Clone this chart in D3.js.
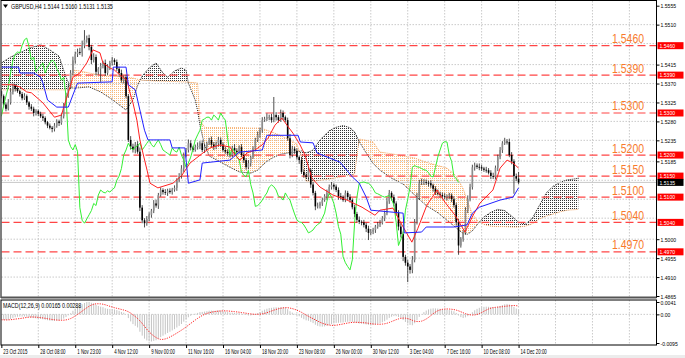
<!DOCTYPE html>
<html lang="en">
<head>
<meta charset="UTF-8">
<title>GBPUSD,H4</title>
<script src="https://d3js.org/d3.v7.min.js"></script>
<style>
  body { margin: 0; background: #fff; }
  svg { display: block; }
  text { font-family: "Liberation Sans", Arial, sans-serif; }
</style>
</head>
<body>
<script>
// ---- data ----
const headerText = 'GBPUSD,H4  1.5144 1.5160 1.5131 1.5135';
const macdText = 'MACD(12,26,9) 0.00165 0.00288';

const timeLabels = ['23 Oct 2015', '28 Oct 08:00', '1 Nov 23:00', '4 Nov 12:00', '9 Nov 00:00',
  '11 Nov 16:00', '16 Nov 04:00', '18 Nov 20:00', '23 Nov 08:00', '26 Nov 00:00',
  '30 Nov 12:00', '3 Dec 04:00', '7 Dec 16:00', '10 Dec 08:00', '14 Dec 20:00'];
const timeLabelBars = [0, 16, 32, 48, 64, 80, 96, 112, 128, 144, 160, 176, 192, 208, 224];
const gridBars = [16, 32, 48, 64, 80, 96, 112, 128, 144, 160, 176, 192, 208, 224, 240, 256, 272];

const priceTicks = [1.5555, 1.5510, 1.5415, 1.5370, 1.5325, 1.5280, 1.5235, 1.5185,
  1.5000, 1.4955, 1.4910, 1.4865];
const gridPrices = [1.5510, 1.5465, 1.5415, 1.5370, 1.5325, 1.5280, 1.5235, 1.5185,
  1.5140, 1.5095, 1.5050, 1.5000, 1.4955, 1.4910];
const macdTicks = [0.0041, 0, -0.0095];
const macdTickLabels = ['0.0041', '0.00', '-0.0095'];

const levels = [1.5460, 1.5390, 1.5300, 1.5200, 1.5150, 1.5100, 1.5040, 1.4970];
const bidPrice = 1.5135;

const firstOpen = 1.5352;
const closes = [
  1.5340,1.5320,1.5310,1.5325,1.5350,1.5365,1.5358,1.5352,1.5345,1.5335,1.5340,1.5325,1.5315,1.5310,1.5300,
  1.5305,1.5298,1.5292,1.5288,1.5278,1.5270,1.5265,1.5262,1.5270,1.5280,1.5276,1.5292,1.5318,1.5340,1.5362,
  1.5395,1.5425,1.5440,1.5445,1.5443,1.5460,1.5474,1.5478,1.5457,1.5426,1.5433,1.5398,1.5405,1.5412,1.5419,
  1.5395,1.5410,1.5419,1.5426,1.5421,1.5405,1.5395,1.5378,1.5385,1.5340,1.5236,1.5220,1.5212,1.5225,1.5208,
  1.5075,1.5045,1.5038,1.5048,1.5058,1.5068,1.5085,1.5080,1.5105,1.5117,1.5112,1.5110,1.5115,1.5112,1.5118,
  1.5122,1.5140,1.5150,1.5168,1.5200,1.5212,1.5228,1.5218,1.5212,1.5219,1.5222,1.5228,1.5212,1.5220,1.5228,
  1.5236,1.5225,1.5219,1.5228,1.5236,1.5225,1.5212,1.5208,1.5204,1.5200,1.5217,1.5210,1.5207,1.5219,1.5200,
  1.5188,1.5171,1.5181,1.5195,1.5215,1.5236,1.5248,1.5259,1.5283,1.5286,1.5290,1.5290,1.5283,1.5295,1.5290,
  1.5283,1.5300,1.5290,1.5283,1.5240,1.5200,1.5215,1.5210,1.5195,1.5188,1.5160,1.5152,1.5148,1.5164,1.5130,
  1.5110,1.5078,1.5080,1.5085,1.5093,1.5102,1.5110,1.5124,1.5129,1.5125,1.5117,1.5102,1.5100,1.5093,1.5110,
  1.5100,1.5093,1.5076,1.5060,1.5046,1.5041,1.5040,1.5034,1.5025,1.5015,1.5018,1.5022,1.5030,1.5035,1.5039,
  1.5050,1.5062,1.5090,1.5110,1.5100,1.5085,1.5062,1.5030,1.5012,1.4958,1.4944,1.4935,1.4927,1.4951,1.5040,
  1.5100,1.5133,1.5135,1.5136,1.5134,1.5133,1.5128,1.5120,1.5110,1.5108,1.5105,1.5102,1.5100,1.5102,1.5104,
  1.5095,1.5081,1.5040,1.4985,1.5000,1.5015,1.5069,1.5095,1.5124,1.5171,1.5175,1.5172,1.5171,1.5168,1.5165,
  1.5164,1.5158,1.5150,1.5148,1.5170,1.5195,1.5212,1.5228,1.5232,1.5231,1.5200,1.5185,1.5150,1.5144,1.5135
];
// wick lengths in pips above/below the candle body
const upperWick = [
  6,4,5,8,7,5,4,6,3,5,7,4,3,6,5,
  4,3,5,6,4,3,5,4,6,5,4,7,6,8,5,
  7,9,6,8,10,12,23,6,8,5,9,6,4,7,5,
  8,6,5,7,4,6,5,8,4,6,5,9,7,6,8,
  10,6,5,7,6,4,8,9,5,6,4,7,5,6,4,
  6,5,7,8,6,5,9,7,4,6,8,5,7,6,4,
  5,8,6,4,7,6,5,8,6,4,5,9,6,4,7,
  6,5,7,4,6,5,8,6,7,5,9,6,8,43,7,
  5,8,6,4,6,10,7,5,6,4,8,6,5,7,4,
  6,5,7,4,6,5,8,6,7,4,5,6,8,4,6,
  5,7,4,6,5,8,4,6,5,7,6,5,4,6,7,
  5,6,8,7,4,6,5,7,8,6,5,7,6,9,8,
  10,8,9,7,6,5,7,4,6,8,5,6,7,4,6,
  5,7,6,8,5,6,7,9,8,6,7,5,8,6,4,
  7,5,6,8,5,6,7,5,9,6,8,7,5,6,16
];
const lowerWick = [
  5,7,6,4,5,6,7,4,6,5,4,6,7,5,8,
  6,5,4,7,5,6,4,8,6,5,7,4,5,6,4,
  5,6,8,7,5,9,6,7,8,10,6,9,7,31,6,
  7,5,8,6,7,5,9,6,8,5,5,7,6,8,5,
  8,7,10,6,5,7,6,5,8,4,6,5,7,4,6,
  5,7,4,6,8,5,6,7,5,4,6,8,5,7,6,
  4,6,7,5,8,6,4,5,7,6,5,8,6,4,5,
  7,6,5,8,4,6,5,7,6,4,5,7,6,5,8,
  6,4,7,5,6,8,5,7,6,9,5,6,4,7,8,
  6,9,5,7,6,4,8,5,6,7,5,8,6,4,5,
  7,6,5,8,6,5,7,6,8,17,5,6,7,5,6,
  4,7,5,6,8,7,6,9,8,10,7,37,9,8,6,
  5,7,4,6,5,8,6,7,5,4,6,7,5,8,6,
  7,6,8,22,5,6,4,7,5,6,8,5,7,6,5,
  6,4,7,5,6,8,5,7,4,6,5,7,42,6,4
];

// Ichimoku lines, [bar, price]
const tenkanPts = [[0,1.5367],[5,1.5367],[8,1.5362],[11,1.5350],[13,1.5348],[18,1.5324],[23,1.5290],[26,1.5295],
  [28.4,1.5338],[31,1.5385],[34,1.5395],[37,1.5419],[39.7,1.5450],[42.7,1.5443],[44,1.5419],[47,1.5407],[49,1.5402],
  [51.4,1.5390],[54.4,1.5378],[55.7,1.5348],[57,1.5324],[58.7,1.5283],[60,1.5236],[61.3,1.5205],[63.1,1.5164],
  [64.4,1.5133],[67.8,1.5122],[74.3,1.5133],[78.2,1.5152],[81.7,1.5181],[87.3,1.5205],[90.4,1.5217],[94.7,1.5224],
  [99,1.5219],[101.2,1.5200],[103.4,1.5188],[106.4,1.5205],[109.9,1.5212],[112.9,1.5224],[115.5,1.5240],[118.5,1.5271],
  [121.5,1.5288],[123.7,1.5271],[126.3,1.5252],[129.4,1.5224],[131.5,1.5200],[134.5,1.5145],[138,1.5124],[143.6,1.5105],
  [149.7,1.5093],[156.2,1.5076],[161.8,1.5057],[164,1.5069],[169.6,1.5074],[173.5,1.5034],[177.8,1.4993],[180.4,1.5026],
  [184.3,1.5081],[188.7,1.5117],[192.1,1.5088],[196.5,1.5057],[200.8,1.5017],[204.3,1.5057],[207.3,1.5086],[212.9,1.5117],
  [216,1.5169],[219,1.5188],[221.6,1.5181],[224,1.5169]];
const kijunPts = [[0,1.5409],[7.5,1.5409],[8,1.5395],[14,1.5395],[17,1.5385],[18,1.5371],[20,1.5331],[24,1.5314],
  [29,1.5314],[31,1.5343],[33,1.5371],[48,1.5374],[48.5,1.5409],[54,1.5409],[55,1.5367],[58,1.5355],[60,1.5307],
  [62,1.5259],[63.5,1.5236],[73,1.5236],[74,1.5217],[79.5,1.5217],[81,1.5133],[86,1.5141],[87,1.5181],[99,1.5188],
  [103,1.5207],[113,1.5212],[115,1.5247],[128.5,1.5247],[129.5,1.5231],[135,1.5229],[136.7,1.5205],[146.7,1.5183],
  [152,1.5148],[155,1.5133],[158,1.5100],[160,1.5069],[174,1.5062],[174.5,1.5015],[182,1.5017],[184,1.5029],
  [196,1.5029],[201.7,1.5034],[204,1.5062],[207,1.5076],[216,1.5093],[221.6,1.5100],[224,1.5122]];

const cloudBars = [0,4,8,12,17,21,25,28,30,31,34,38,43,48,54,57,59,61,64,67,70,72,75,78,80,81,84,85,86,88,90,95,99,
  103,108,111,113,115,118,121,125,128,130,132,135,138,142,145,148,151,153,155,158,161,164,169,174,179,184,189,193,197,
  200,202,204,206,209,212,215,218,221,224,227,230,233,236,239,242,245,248,250];
const spanA = [1.5419,1.5433,1.5443,1.5454,1.5462,1.5450,1.5435,1.5385,1.5362,1.5359,1.5360,1.5362,1.5350,1.5332,
  1.5307,1.5331,1.5365,1.5388,1.5407,1.5419,1.5395,1.5385,1.5400,1.5407,1.5402,1.5371,1.5330,1.5305,1.5271,1.5224,
  1.5198,1.5183,1.5171,1.5160,1.5157,1.5164,1.5175,1.5185,1.5195,1.5202,1.5206,1.5207,1.5210,1.5205,1.5212,1.5236,
  1.5258,1.5266,1.5270,1.5265,1.5255,1.5232,1.5205,1.5180,1.5164,1.5145,1.5131,1.5105,1.5080,1.5063,1.5045,1.5027,
  1.5013,1.5012,1.5020,1.5034,1.5053,1.5064,1.5071,1.5068,1.5055,1.5040,1.5036,1.5050,1.5080,1.5110,1.5126,1.5135,
  1.5141,1.5143,1.5145];
const spanB = [1.5355,1.5355,1.5355,1.5355,1.5355,1.5355,1.5355,1.5355,1.5355,1.5402,1.5400,1.5395,1.5390,1.5388,
  1.5385,1.5383,1.5380,1.5378,1.5377,1.5376,1.5376,1.5375,1.5375,1.5374,1.5374,1.5373,1.5372,1.5371,1.5283,1.5266,
  1.5265,1.5265,1.5265,1.5265,1.5264,1.5264,1.5263,1.5259,1.5253,1.5246,1.5236,1.5226,1.5195,1.5138,1.5138,1.5140,
  1.5143,1.5146,1.5149,1.5152,1.5155,1.5238,1.5235,1.5231,1.5207,1.5203,1.5198,1.5193,1.5183,1.5175,1.5169,1.5150,
  1.5120,1.5088,1.5060,1.5045,1.5035,1.5031,1.5030,1.5030,1.5029,1.5029,1.5031,1.5037,1.5048,1.5055,1.5060,1.5065,
  1.5069,1.5070,1.5071];

const chikouShift = 26;
const macdFirst = -0.0018;   // MACD value at the first visible bar

// ---- layout ----
const W = 685, H = 358;
const plotL = 1.5, plotR = 656.5;
const mainT = 1, mainB = 297.5;
const macdT = 300, macdB = 345;

const svg = d3.select('body').append('svg').attr('width', W).attr('height', H);
const defs = svg.append('defs');

const x = d3.scaleLinear().domain([0, 272]).range([1.35, 1.35 + 272 * 2.309]);
const y = d3.scaleLinear().domain([1.4865, 1.5555]).range([296, 5.7]);
const yM = d3.scaleLinear().domain([-0.0095, 0.0041]).range([343, 302]);

defs.append('clipPath').attr('id', 'clipMain').append('rect')
  .attr('x', plotL).attr('y', mainT).attr('width', plotR - plotL).attr('height', mainB - mainT - 1);
defs.append('clipPath').attr('id', 'clipMacd').append('rect')
  .attr('x', plotL).attr('y', macdT).attr('width', plotR - plotL).attr('height', macdB - macdT);

function dots(id, color) {
  const p = defs.append('pattern').attr('id', id).attr('patternUnits', 'userSpaceOnUse')
    .attr('width', 2).attr('height', 2);
  p.append('rect').attr('width', 1).attr('height', 1).attr('fill', color);
}
dots('dotBlack', '#333');
dots('dotOrange', '#f9b877');

function txt(g, tx, ty, s, size, sx, fill, anchor) {
  return g.append('text').attr('transform', `translate(${tx},${ty}) scale(${sx},1)`)
    .attr('font-size', size).attr('fill', fill).attr('text-anchor', anchor || 'start').text(s);
}

svg.append('rect').attr('width', W).attr('height', H).attr('fill', '#fff');
svg.append('rect').attr('x', 0).attr('y', 355).attr('width', W).attr('height', 3).attr('fill', '#ececec');

// grid
const grid = svg.append('g').attr('stroke', '#bdbdbd').attr('stroke-width', 0.8).attr('stroke-dasharray', '1.5,1.5');
grid.selectAll('.gx').data(gridBars).join('line').attr('class', 'gx')
  .attr('x1', d => x(d)).attr('x2', d => x(d)).attr('y1', mainT).attr('y2', mainB);
grid.selectAll('.gxm').data(gridBars).join('line').attr('class', 'gxm')
  .attr('x1', d => x(d)).attr('x2', d => x(d)).attr('y1', macdT).attr('y2', macdB);
grid.selectAll('.gy').data(gridPrices).join('line').attr('class', 'gy')
  .attr('x1', plotL).attr('x2', plotR).attr('y1', d => y(d)).attr('y2', d => y(d));
grid.append('line').attr('x1', plotL).attr('x2', plotR).attr('y1', yM(0)).attr('y2', yM(0));

const main = svg.append('g').attr('clip-path', 'url(#clipMain)');

// cloud
const cloud = cloudBars.map((b, i) => ({ b, a: spanA[i], s: spanB[i] }));
defs.append('clipPath').attr('id', 'belowA').append('path')
  .attr('d', d3.area().x(d => x(d.b)).y0(mainB).y1(d => y(d.a))(cloud));
defs.append('clipPath').attr('id', 'belowB').append('path')
  .attr('d', d3.area().x(d => x(d.b)).y0(mainB).y1(d => y(d.s))(cloud));
main.append('path').attr('clip-path', 'url(#belowA)').attr('fill', 'url(#dotBlack)')
  .attr('d', d3.area().x(d => x(d.b)).y0(d => y(d.s)).y1(mainT)(cloud));
main.append('path').attr('clip-path', 'url(#belowB)').attr('fill', 'url(#dotOrange)')
  .attr('d', d3.area().x(d => x(d.b)).y0(d => y(d.a)).y1(mainT)(cloud));
main.append('path').attr('fill', 'none').attr('stroke', '#f4a460').attr('stroke-width', 1)
  .attr('stroke-dasharray', '1,1').attr('d', d3.line().x(d => x(d.b)).y(d => y(d.s))(cloud));
main.append('path').attr('fill', 'none').attr('stroke', '#222').attr('stroke-width', 1)
  .attr('stroke-dasharray', '1,1').attr('d', d3.line().x(d => x(d.b)).y(d => y(d.a))(cloud));

// level lines
main.selectAll('.lvl').data(levels).join('line').attr('class', 'lvl')
  .attr('x1', plotL).attr('x2', plotR).attr('y1', d => y(d)).attr('y2', d => y(d))
  .attr('stroke', '#ff4545').attr('stroke-width', 1.2).attr('stroke-dasharray', '8,4');
main.append('line').attr('x1', plotL).attr('x2', plotR).attr('y1', y(bidPrice)).attr('y2', y(bidPrice))
  .attr('stroke', '#c8c8c8').attr('stroke-width', 1);

// candles
const bars = closes.map((c, i) => {
  const o = i ? closes[i - 1] : firstOpen;
  return { i, o, c, hi: Math.max(o, c) + upperWick[i] / 10000, lo: Math.min(o, c) - lowerWick[i] / 10000 };
});
const cg = main.append('g');
cg.selectAll('.wick').data(bars).join('line').attr('class', 'wick')
  .attr('x1', d => x(d.i)).attr('x2', d => x(d.i)).attr('y1', d => y(d.hi)).attr('y2', d => y(d.lo))
  .attr('stroke', '#222').attr('stroke-width', 0.8);
cg.selectAll('.body').data(bars).join('rect').attr('class', 'body')
  .attr('x', d => x(d.i) - 0.8).attr('width', 1.6)
  .attr('y', d => y(Math.max(d.o, d.c)))
  .attr('height', d => Math.max(0.8, Math.abs(y(d.o) - y(d.c))))
  .attr('fill', d => d.c >= d.o ? '#8c8c8c' : '#000');

// ichimoku lines
const ptLine = d3.line().x(d => x(d[0])).y(d => y(d[1]));
const chikou = closes.slice(chikouShift).map((c, i) => [i, c]);
main.append('path').attr('fill', 'none').attr('stroke', '#33ee33').attr('stroke-width', 1).attr('d', ptLine(chikou));
main.append('path').attr('fill', 'none').attr('stroke', '#ff2020').attr('stroke-width', 1).attr('d', ptLine(tenkanPts));
main.append('path').attr('fill', 'none').attr('stroke', '#2020ff').attr('stroke-width', 1).attr('d', ptLine(kijunPts));

// level labels
levels.forEach(p => txt(svg, 612, y(p) - 2.5, p.toFixed(4), 12.5, 0.84, '#f87a2c'));

// MACD
const macdMain = [];
let e12 = closes[0], e26 = closes[0] - macdFirst;
closes.forEach((c, i) => {
  if (i > 0) { e12 += (c - e12) * 2 / 13; e26 += (c - e26) * 2 / 27; }
  macdMain.push(e12 - e26);
});
const macdSignal = macdMain.map((m, i) => d3.mean(macdMain.slice(Math.max(0, i - 8), i + 1)));
const mg = svg.append('g').attr('clip-path', 'url(#clipMacd)');
mg.selectAll('rect').data(macdMain).join('rect')
  .attr('x', (d, i) => x(i) - 0.5).attr('width', 1)
  .attr('y', d => Math.min(yM(0), yM(d))).attr('height', d => Math.abs(yM(d) - yM(0)))
  .attr('fill', '#c4c4c4');
mg.append('path').attr('fill', 'none').attr('stroke', '#ff2020').attr('stroke-width', 1)
  .attr('stroke-dasharray', '1.2,1.2')
  .attr('d', d3.line().x((d, i) => x(i)).y(d => yM(d))(macdSignal));

// frames
svg.append('rect').attr('x', 1).attr('y', 0.5).attr('width', plotR - 1).attr('height', mainB - 0.5)
  .attr('fill', 'none').attr('stroke', '#000').attr('stroke-width', 1);
svg.append('line').attr('x1', 1).attr('x2', plotR).attr('y1', mainB).attr('y2', mainB)
  .attr('stroke', '#555').attr('stroke-width', 2);
svg.append('rect').attr('x', 1).attr('y', macdT).attr('width', plotR - 1).attr('height', macdB - macdT)
  .attr('fill', 'none').attr('stroke', '#000').attr('stroke-width', 1);

// price axis
const pa = svg.append('g').attr('transform', `translate(${plotR},0)`)
  .call(d3.axisRight(y).tickValues(priceTicks).tickSize(3).tickFormat(d3.format('.4f')));
pa.select('.domain').remove();
pa.attr('font-size', 6).attr('font-family', '"Liberation Sans", Arial, sans-serif');
pa.selectAll('text').attr('x', null).attr('dy', null).attr('transform', 'translate(4,2) scale(0.85,1)');

const ma = svg.append('g').attr('transform', `translate(${plotR},0)`)
  .call(d3.axisRight(yM).tickValues(macdTicks).tickSize(3).tickFormat((d, i) => macdTickLabels[i]));
ma.select('.domain').remove();
ma.attr('font-size', 6).attr('font-family', '"Liberation Sans", Arial, sans-serif');
ma.selectAll('text').attr('x', null).attr('dy', null).attr('transform', 'translate(4,2) scale(0.85,1)');

// level boxes on axis
levels.forEach(p => {
  svg.append('rect').attr('x', plotR + 1).attr('y', y(p) - 3.5).attr('width', 26).attr('height', 7).attr('fill', '#ff0000');
  txt(svg, plotR + 3, y(p) + 2.2, p.toFixed(4), 6, 0.85, '#fff');
});
svg.append('rect').attr('x', plotR + 1).attr('y', y(bidPrice) - 3.5).attr('width', 26).attr('height', 7).attr('fill', '#000');
txt(svg, plotR + 3, y(bidPrice) + 2.2, bidPrice.toFixed(4), 6, 0.85, '#fff');

// time axis
const ta = svg.append('g').attr('transform', `translate(0,${macdB})`)
  .call(d3.axisBottom(x).tickValues(timeLabelBars).tickSize(3).tickFormat((d, i) => timeLabels[i]));
ta.select('.domain').remove();
ta.attr('font-size', 6.5).attr('font-family', '"Liberation Sans", Arial, sans-serif');
ta.selectAll('text').attr('y', null).attr('dy', null).attr('text-anchor', 'start')
  .attr('transform', 'translate(1.5,9) scale(0.68,1)');

// header texts
svg.append('path').attr('d', 'M3,4.5 L8,4.5 L5.5,8 Z').attr('fill', '#000');
txt(svg, 11, 9, headerText, 7.2, 0.74, '#000');
txt(svg, 3, 307.5, macdText, 7, 0.76, '#000');
</script>
</body>
</html>
